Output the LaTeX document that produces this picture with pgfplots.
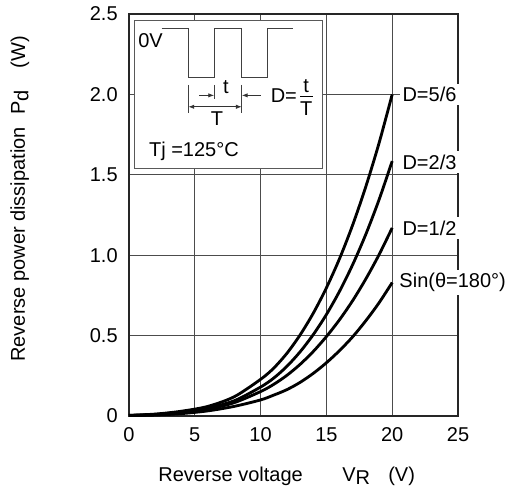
\documentclass[border=0pt]{standalone}
\usepackage{pgfplots}
\pgfplotsset{compat=1.18}
\usepackage{fontspec}
\setmainfont{Liberation Sans}
\usetikzlibrary{arrows.meta}

\begin{document}
\fontsize{12}{14}\selectfont
\begin{tikzpicture}
\path[use as bounding box] (-77.4pt,-45pt) rectangle (232.8pt,249.6pt);
\begin{axis}[
  name=ax, at={(0,0)}, anchor=south west,
  scale only axis, width=197.4pt, height=241.2pt,
  xmin=0, xmax=25, ymin=0, ymax=2.5,
  xtick={0,5,10,15,20,25}, ytick={0,0.5,1,1.5,2,2.5},
  xticklabels={0,5,10,15,20,25},
  yticklabels={0,0.5,1.0,1.5,2.0,2.5},
  grid=major, major grid style={black!70, line width=0.6pt},
  axis line style={black!85, line width=1.1pt},
  tick style={draw=none},
  /pgf/number format/assume math mode=true,
  xticklabel style={yshift=-3pt},
  yticklabel style={xshift=-2.6pt},
  clip=false,
]
% inset box
\draw[black!65, line width=0.6pt, fill=white] (axis cs:0.45,1.542) rectangle (axis cs:14.74,2.458);
\draw[black!75, line width=0.6pt] (axis cs:2.48,2.41) -- (axis cs:4.51,2.41) -- (axis cs:4.51,2.107) -- (axis cs:6.47,2.107) -- (axis cs:6.47,2.41) -- (axis cs:8.57,2.41) -- (axis cs:8.57,2.107) -- (axis cs:10.53,2.107) -- (axis cs:10.53,2.41) -- (axis cs:12.48,2.41);
\node[anchor=west, inner sep=0pt] at (axis cs:0.68,2.333) {0V};
\draw[black!75, line width=0.6pt] (axis cs:4.51,2.06) -- (axis cs:4.51,1.887);
\draw[black!75, line width=0.6pt] (axis cs:6.47,2.06) -- (axis cs:6.47,1.97);
\draw[black!75, line width=0.6pt] (axis cs:8.57,2.06) -- (axis cs:8.57,1.887);
\draw[black!80, line width=0.5pt, -{Latex[length=3.5pt,width=2.6pt]}] (axis cs:5.34,1.994) -- (axis cs:6.47,1.994);
\draw[black!80, line width=0.5pt, -{Latex[length=3.5pt,width=2.6pt]}] (axis cs:10.0,1.994) -- (axis cs:8.57,1.994);
\draw[black!80, line width=0.5pt, {Latex[length=3.5pt,width=2.6pt]}-{Latex[length=3.5pt,width=2.6pt]}] (axis cs:4.51,1.923) -- (axis cs:8.57,1.923);
\node[inner sep=0pt] at (axis cs:7.37,2.048) {t};
\node[inner sep=0pt] at (axis cs:6.69,1.851) {T};
\node[anchor=west, inner sep=0pt] at (axis cs:10.75,1.994) {D=};
\node[inner sep=0pt] at (axis cs:13.46,2.05) {t};
\draw[black, line width=0.6pt] (axis cs:13.0,1.988) -- (axis cs:13.98,1.988);
\node[inner sep=0pt] at (axis cs:13.46,1.911) {T};
\node[anchor=west, inner sep=0pt] at (axis cs:1.50,1.643) {Tj =125°C};

% curves
\addplot[black, line width=1.7pt, smooth] coordinates {
 (0,0.004) (2,0.012) (4,0.03) (6,0.06) (8,0.12) (10,0.228) (11,0.298) (12,0.39) (13,0.504) (14,0.639) (15,0.797) (16,0.979) (17,1.189) (18,1.428) (19,1.697) (20,2.0)};
\addplot[black, line width=1.7pt, smooth] coordinates {
 (0,0.004) (2,0.01) (4,0.025) (6,0.05) (8,0.095) (10,0.18) (11,0.236) (12,0.309) (13,0.399) (14,0.506) (15,0.631) (16,0.776) (17,0.942) (18,1.131) (19,1.345) (20,1.585)};
\addplot[black, line width=1.7pt, smooth] coordinates {
 (0,0.003) (2,0.008) (4,0.02) (6,0.042) (8,0.083) (10,0.152) (11,0.197) (12,0.253) (13,0.321) (14,0.401) (15,0.494) (16,0.599) (17,0.718) (18,0.853) (19,1.003) (20,1.17)};
\addplot[black, line width=1.7pt, smooth] coordinates {
 (0,0.003) (2,0.006) (4,0.015) (6,0.032) (8,0.06) (10,0.1) (11,0.13) (12,0.164) (13,0.209) (14,0.265) (15,0.331) (16,0.407) (17,0.493) (18,0.593) (19,0.704) (20,0.83)};

% curve labels
\node[anchor=west, fill=white, inner xsep=1.8pt, inner ysep=2pt] at (axis cs:20.53,2.0) {D=5/6};
\node[anchor=west, fill=white, inner xsep=1.8pt, inner ysep=2pt] at (axis cs:20.53,1.58) {D=2/3};
\node[anchor=west, fill=white, inner xsep=1.8pt, inner ysep=2pt] at (axis cs:20.53,1.17) {D=1/2};
\node[anchor=west, fill=white, inner xsep=1.8pt, inner ysep=2pt] at (axis cs:20.3,0.83) {Sin(θ=180°)};
\end{axis}
% axis labels
\node[anchor=base west, inner sep=0pt] at (17.4pt,-39pt) {Reverse voltage\hspace{23.7pt}V\raisebox{-2pt}{R}\hspace{10.9pt}(V)};
\node[anchor=base west, inner sep=0pt, rotate=90] at (-62.4pt,32.4pt) {Reverse power dissipation\hspace{7.5pt}P\raisebox{-2pt}{d}\hspace{13pt}(W)};
\end{tikzpicture}
\end{document}
